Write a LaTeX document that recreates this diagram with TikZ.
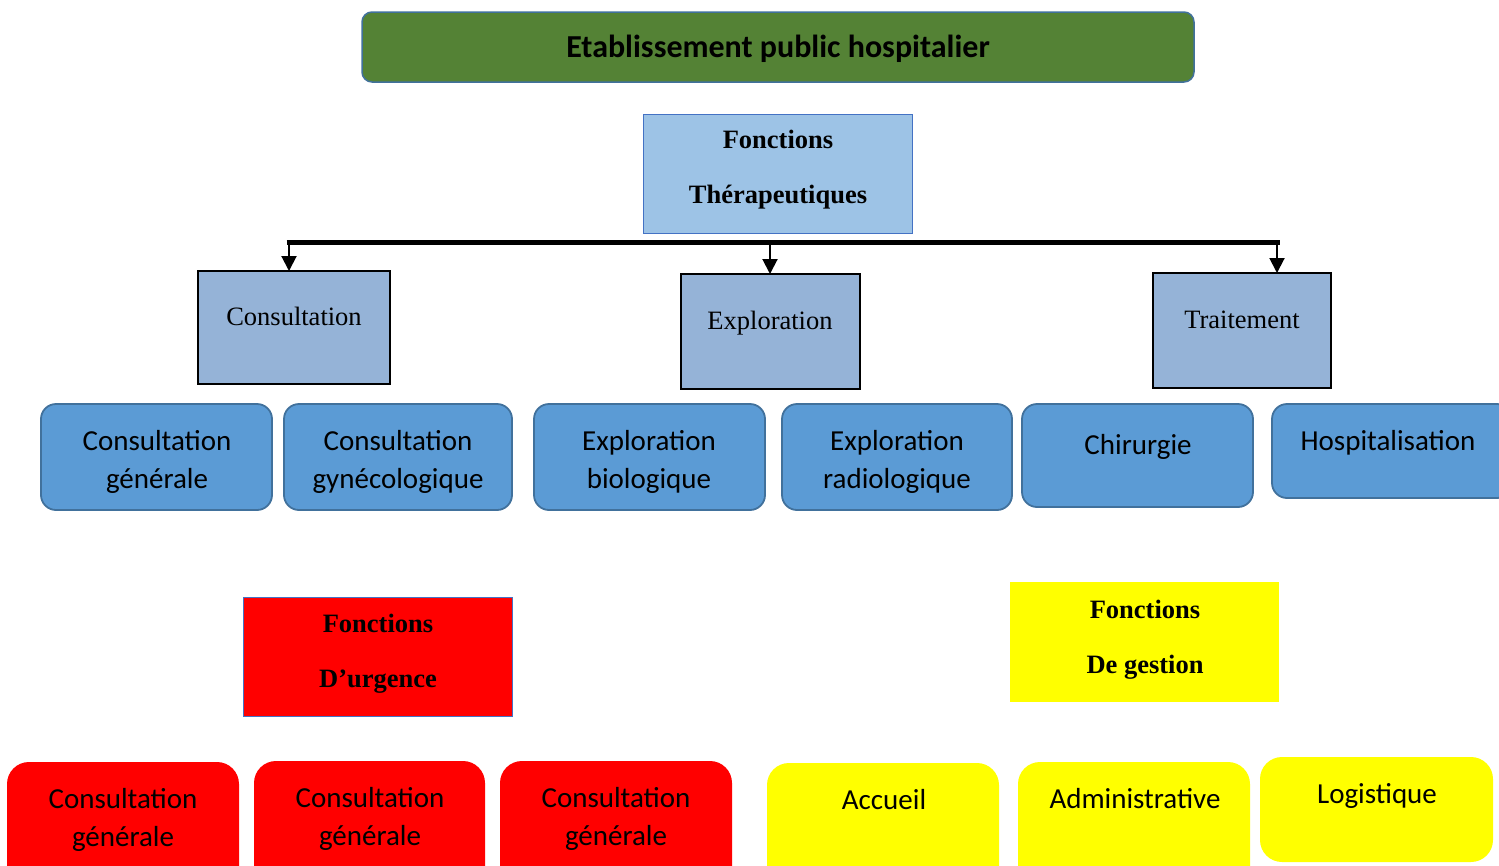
\documentclass[tikz,border=0pt]{standalone}
\usepackage{fontspec}
\setmainfont{Liberation Serif}
\newfontfamily\calibri{Carlito}
\usetikzlibrary{arrows.meta,calc}

\definecolor{titlegreen}{HTML}{548235}
\definecolor{titleedge}{HTML}{41719C}
\definecolor{lightblue}{HTML}{9DC3E6}
\definecolor{accentblue}{HTML}{4472C4}
\definecolor{steelbox}{HTML}{95B3D7}
\definecolor{midblue}{HTML}{5B9BD5}
\definecolor{midedge}{HTML}{41719C}
\definecolor{pureRed}{RGB}{255,0,0}
\definecolor{pureYellow}{RGB}{255,255,0}

\tikzset{
  every node/.style={inner sep=0pt, outer sep=0pt},
  titlebox/.style={draw=titleedge, line width=1.5pt, fill=titlegreen, rounded corners=10pt},
  headbox/.style={draw=accentblue, line width=0.8pt},
  subbox/.style={draw=black, line width=1.4pt, fill=steelbox},
  unitbox/.style={draw=midedge, line width=1.8pt, fill=midblue, rounded corners=15pt},
  softbox/.style={rounded corners=22pt},
  sanstxt/.style={font=\calibri\fontsize{29}{38}\selectfont, align=center},
  serifbold/.style={font=\fontsize{26.5}{55}\selectfont\bfseries, align=center},
  seriftxt/.style={font=\fontsize{26.5}{32}\selectfont},
  oneline/.style={text height=20pt, text depth=6pt},
  bus/.style={line width=5pt},
  drop/.style={line width=2pt, -{Triangle[width=15pt,length=15pt]}},
}

\begin{document}
\begin{tikzpicture}[x=1pt,y=-1pt]
\useasboundingbox (0,0) rectangle (1499,865);
\clip (0,0) rectangle (1499,865);

% establishment title
\draw[titlebox] (362,12) rectangle (1194,82);
\node[font=\calibri\fontsize{32}{38}\selectfont\bfseries, oneline] (title) at (778,50) {Etablissement public hospitalier};

% therapeutic functions
\node[headbox, fill=lightblue, minimum width=269pt, minimum height=119pt, anchor=north west] (ther) at (643,114) {};
\node[serifbold] at (778,170) {Fonctions\\Thérapeutiques};

% distribution bus
\coordinate (busL) at (289,242);
\coordinate (busM) at (770,242);
\coordinate (busR) at (1277,242);
\draw[bus] ($(busL)+(-2.5,0)$) -- ($(busR)+(2.5,0)$);

% three branches
\node[subbox, minimum width=192pt, minimum height=113pt, anchor=north west] (cons) at (198,271) {};
\node[seriftxt, oneline] at (294,318) {Consultation};
\node[subbox, minimum width=179pt, minimum height=115pt, anchor=north west] (expl) at (681,274) {};
\node[seriftxt, oneline] at (770,322) {Exploration};
\node[subbox, minimum width=178pt, minimum height=115pt, anchor=north west] (trait) at (1153,273) {};
\node[seriftxt, oneline] at (1242,321) {Traitement};

\draw[drop] (busL) -- (busL |- cons.north);
\draw[drop] (busM) -- (busM |- expl.north);
\draw[drop] (busR) -- (busR |- trait.north);

% care units
\node[unitbox, minimum width=231pt, minimum height=106pt, anchor=north west] (cg) at (41,404) {};
\node[sanstxt] at (157,462) {Consultation\\générale};
\node[unitbox, minimum width=228pt, minimum height=106pt, anchor=north west] (cgy) at (284,404) {};
\node[sanstxt] at (398,462) {Consultation\\gynécologique};
\node[unitbox, minimum width=231pt, minimum height=106pt, anchor=north west] (eb) at (534,404) {};
\node[sanstxt] at (649,462) {Exploration\\biologique};
\node[unitbox, minimum width=230pt, minimum height=106pt, anchor=north west] (er) at (782,404) {};
\node[sanstxt] at (897,462) {Exploration\\radiologique};
\node[unitbox, minimum width=231pt, minimum height=103pt, anchor=north west] (chir) at (1022,404) {};
\node[sanstxt, oneline] at (1138,447) {Chirurgie};
\node[unitbox, minimum width=240pt, minimum height=94pt, anchor=north west] (hosp) at (1272,404) {};
\node[sanstxt, oneline] at (1388,443) {Hospitalisation};

% emergency functions
\node[headbox, fill=pureRed, minimum width=269pt, minimum height=119pt, anchor=north west] (urg) at (243,597) {};
\node[serifbold] at (378,654) {Fonctions\\D’urgence};

% management functions
\node[fill=pureYellow, minimum width=269pt, minimum height=120pt, anchor=north west] (gest) at (1010,582) {};
\node[serifbold] at (1145,640) {Fonctions\\De gestion};

% emergency units
\node[softbox, fill=pureRed, minimum width=232pt, minimum height=130pt, anchor=north west] (u1) at (7,762) {};
\node[sanstxt] at (123,820) {Consultation\\générale};
\node[softbox, fill=pureRed, minimum width=231pt, minimum height=130pt, anchor=north west] (u2) at (254,761) {};
\node[sanstxt] at (370,819) {Consultation\\générale};
\node[softbox, fill=pureRed, minimum width=232pt, minimum height=130pt, anchor=north west] (u3) at (500,761) {};
\node[sanstxt] at (616,819) {Consultation\\générale};

% management units
\node[softbox, fill=pureYellow, minimum width=232pt, minimum height=130pt, anchor=north west] (g1) at (767,763) {};
\node[sanstxt, oneline] at (884,802) {Accueil};
\node[softbox, fill=pureYellow, minimum width=232pt, minimum height=130pt, anchor=north west] (g2) at (1018,762) {};
\node[sanstxt, oneline] at (1135,801) {Administrative};
\node[softbox, fill=pureYellow, minimum width=233pt, minimum height=105pt, anchor=north west] (g3) at (1260,757) {};
\node[sanstxt, oneline] at (1377,796) {Logistique};
\end{tikzpicture}
\end{document}
